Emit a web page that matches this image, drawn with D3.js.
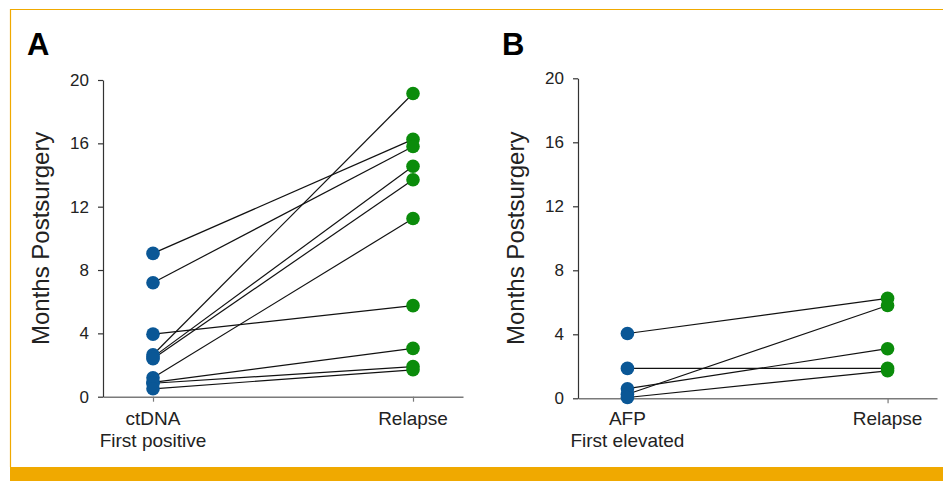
<!DOCTYPE html>
<html>
<head>
<meta charset="utf-8">
<script src="https://cdn.jsdelivr.net/npm/d3@7"></script>
<style>
  html, body { margin: 0; padding: 0; background: #fff; }
  svg { display: block; }
  text { font-family: "Liberation Sans", Arial, Helvetica, sans-serif; fill: #222; }
</style>
</head>
<body>
<svg id="chart" width="943" height="481"></svg>
<script>
// ---- Data ----
const yTicks = [0, 4, 8, 12, 16, 20];
const yLabel = "Months Postsurgery";

// Panel A
const panelACategories = ["ctDNA", "Relapse"];
const panelALabelLines = [["ctDNA", "First positive"], ["Relapse"]];
const ctdnaFirstPositive = [9.05, 7.2, 3.95, 2.65, 2.5, 2.4, 1.2, 0.9, 0.85, 0.5];
const relapseA = [16.25, 15.8, 5.75, 19.15, 14.55, 13.7, 11.25, 3.05, 1.9, 1.7];

// Panel B
const panelBCategories = ["AFP", "Relapse"];
const panelBLabelLines = [["AFP", "First elevated"], ["Relapse"]];
const afpFirstElevated = [4.05, 1.87, 0.6, 0.25, 0.05];
const relapseB = [6.25, 1.87, 3.1, 5.8, 1.72];

const blue = "#0a5796";
const green = "#0b8c0b";
const orange = "#f0a900";

const svg = d3.select("#chart");

// frame
svg.append("line").attr("x1", 10).attr("x2", 943).attr("y1", 9.5).attr("y2", 9.5)
  .attr("stroke", orange).attr("stroke-width", 1.2);
svg.append("line").attr("x1", 10.5).attr("x2", 10.5).attr("y1", 9).attr("y2", 467)
  .attr("stroke", orange).attr("stroke-width", 1.2);
svg.append("rect").attr("x", 10).attr("y", 467).attr("width", 933).attr("height", 14)
  .attr("fill", orange);

function drawPanel(cfg) {
  const g = svg.append("g");
  const x = d3.scalePoint().domain(cfg.categories).range([cfg.x0, cfg.x1]).padding(cfg.pad);
  const y = d3.scaleLinear().domain([0, 20]).range([cfg.yBottom, cfg.yTop]);

  // panel letter
  g.append("text").attr("x", cfg.letterX).attr("y", 55)
    .style("font-size", "31px").style("font-weight", "bold").style("fill", "#000")
    .text(cfg.letter);

  // x axis
  const xa = g.append("g").attr("transform", `translate(0,${cfg.yBottom})`)
    .call(d3.axisBottom(x).tickSize(5).tickSizeOuter(0).tickFormat(""));
  xa.select(".domain").attr("stroke", "#7a7a7a").attr("stroke-width", 1.6);
  xa.selectAll(".tick line").attr("stroke", "#7a7a7a").attr("stroke-width", 1.2);
  cfg.categories.forEach((c, i) => {
    const t = g.append("text").attr("text-anchor", "middle")
      .attr("x", x(c)).attr("y", 425).style("font-size", "19px");
    cfg.labelLines[i].forEach((ln, j) => {
      t.append("tspan").attr("x", x(c)).attr("dy", j === 0 ? 0 : 22).text(ln);
    });
  });

  // y axis
  const ya = g.append("g").attr("transform", `translate(${cfg.x0},0)`)
    .call(d3.axisLeft(y).tickValues(yTicks).tickSize(5).tickSizeOuter(0).tickPadding(9));
  ya.select(".domain").attr("stroke", "#333").attr("stroke-width", 1.2);
  ya.selectAll(".tick line").attr("stroke", "#333").attr("stroke-width", 1.2);
  ya.selectAll(".tick text").style("font-size", "17px").style("fill", "#222")
    .style("font-family", '"Liberation Sans", Arial, sans-serif');

  // y label
  g.append("text").attr("text-anchor", "middle")
    .attr("transform", `translate(${cfg.titleX},${(cfg.yBottom + cfg.yTop) / 2}) rotate(-90)`)
    .style("font-size", "24px").text(yLabel);

  // connecting lines
  const pairs = cfg.first.map((v, i) => [v, cfg.second[i]]);
  g.selectAll("line.pair").data(pairs).enter().append("line")
    .attr("class", "pair")
    .attr("x1", x(cfg.categories[0])).attr("x2", x(cfg.categories[1]))
    .attr("y1", d => y(d[0])).attr("y2", d => y(d[1]))
    .attr("stroke", "#111").attr("stroke-width", 1.2);

  g.selectAll("circle.first").data(cfg.first).enter().append("circle")
    .attr("class", "first").attr("cx", x(cfg.categories[0])).attr("cy", d => y(d))
    .attr("r", 6.8).attr("fill", blue);
  g.selectAll("circle.second").data(cfg.second).enter().append("circle")
    .attr("class", "second").attr("cx", x(cfg.categories[1])).attr("cy", d => y(d))
    .attr("r", 6.8).attr("fill", green);
}

drawPanel({
  letter: "A", letterX: 27,
  categories: panelACategories, labelLines: panelALabelLines,
  first: ctdnaFirstPositive, second: relapseA,
  x0: 103, x1: 463, pad: 0.1923, yBottom: 396.7, yTop: 80, titleX: 49
});
drawPanel({
  letter: "B", letterX: 502,
  categories: panelBCategories, labelLines: panelBLabelLines,
  first: afpFirstElevated, second: relapseB,
  x0: 578, x1: 937, pad: 0.19, yBottom: 398.3, yTop: 78.3, titleX: 524
});
</script>
</body>
</html>
